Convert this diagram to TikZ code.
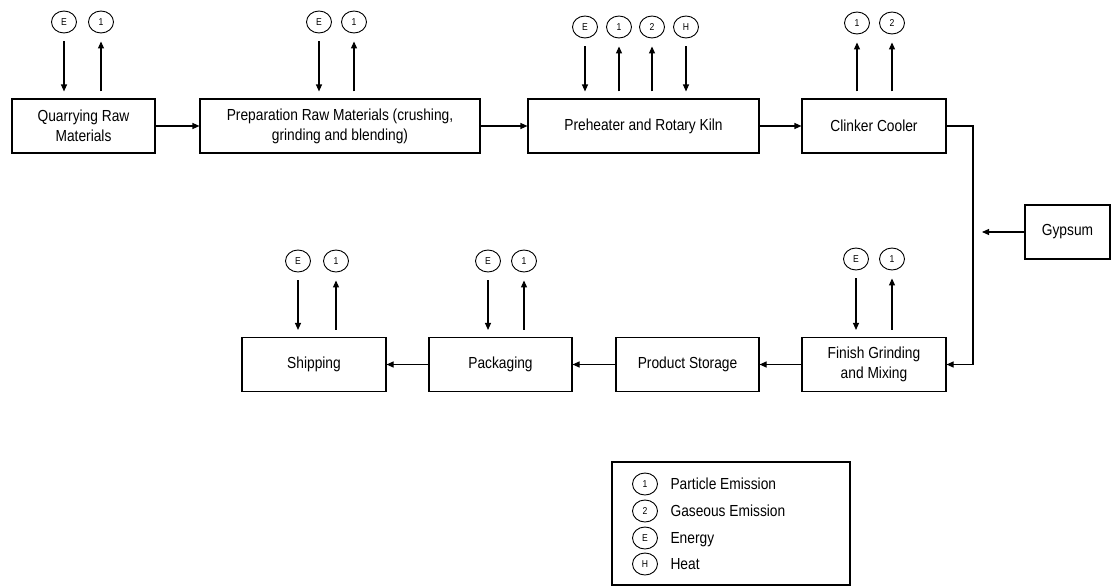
\documentclass[tikz,border=0pt]{standalone}
\usepackage{fontspec}
\setmainfont{Liberation Sans}[FakeStretch=0.86]
\usetikzlibrary{arrows.meta,shapes.geometric}

\begin{document}
\begin{tikzpicture}[x=1pt,y=1pt,line width=1.1pt,
  proc/.style={draw,rectangle,minimum height=54pt,inner sep=0pt,align=center,font=\fontsize{16}{20}\selectfont},
  tag/.style={draw,ellipse,line width=0.9pt,minimum width=25pt,minimum height=22pt,inner sep=0pt,font=\fontsize{10}{10}\selectfont},
  keytext/.style={anchor=base west,inner sep=0pt,font=\fontsize{16}{16}\selectfont},
  flow/.style={-{Triangle[length=7pt,width=6pt]}},
  feed/.style={flow,shorten <=8pt,shorten >=7pt},
  emit/.style={flow,shorten <=7pt,shorten >=8pt}]
\useasboundingbox (0,0) rectangle (1111,-586);
\node[proc,minimum width=143pt] (quarry) at (83.5,-126) {Quarrying Raw\\Materials};
\node[proc,minimum width=280pt] (prep) at (340,-126) {Preparation Raw Materials (crushing,\\grinding and blending)};
\node[proc,minimum width=231pt] (kiln) at (643.5,-126) {Preheater and Rotary Kiln};
\node[proc,minimum width=144pt] (cooler) at (874,-126) {Clinker Cooler};
\node[proc,minimum width=85pt] (gypsum) at (1067.5,-232) {Gypsum};
\node[proc,minimum width=144pt] (grind) at (874,-364.5) {Finish Grinding\\and Mixing};
\node[proc,minimum width=143pt] (storage) at (687.5,-364.5) {Product Storage};
\node[proc,minimum width=143pt] (pack) at (500.5,-364.5) {Packaging};
\node[proc,minimum width=144pt] (ship) at (314,-364.5) {Shipping};
\node[tag] (quarryE) at (64,-22) {E};
\node[tag] (quarry1) at (101,-22) {1};
\node[tag] (prepE) at (319,-22) {E};
\node[tag] (prep1) at (354,-22) {1};
\node[tag] (kilnE) at (585,-27) {E};
\node[tag] (kiln1) at (619,-27) {1};
\node[tag] (kiln2) at (652,-27) {2};
\node[tag] (kilnH) at (686,-27) {H};
\node[tag] (cooler1) at (857,-23) {1};
\node[tag] (cooler2) at (892,-23) {2};
\node[tag] (grindE) at (856,-259) {E};
\node[tag] (grind1) at (892,-259) {1};
\node[tag] (packE) at (488,-261) {E};
\node[tag] (pack1) at (524,-261) {1};
\node[tag] (shipE) at (298,-261) {E};
\node[tag] (ship1) at (336,-261) {1};
\draw[feed] (quarryE) -- (quarryE |- quarry.north);
\draw[emit] (quarry1 |- quarry.north) -- (quarry1);
\draw[feed] (prepE) -- (prepE |- prep.north);
\draw[emit] (prep1 |- prep.north) -- (prep1);
\draw[feed] (kilnE) -- (kilnE |- kiln.north);
\draw[emit] (kiln1 |- kiln.north) -- (kiln1);
\draw[emit] (kiln2 |- kiln.north) -- (kiln2);
\draw[feed] (kilnH) -- (kilnH |- kiln.north);
\draw[emit] (cooler1 |- cooler.north) -- (cooler1);
\draw[emit] (cooler2 |- cooler.north) -- (cooler2);
\draw[feed] (grindE) -- (grindE |- grind.north);
\draw[emit] (grind1 |- grind.north) -- (grind1);
\draw[feed] (packE) -- (packE |- pack.north);
\draw[emit] (pack1 |- pack.north) -- (pack1);
\draw[feed] (shipE) -- (shipE |- ship.north);
\draw[emit] (ship1 |- ship.north) -- (ship1);
\draw[flow] (quarry) -- (prep);
\draw[flow] (prep) -- (kiln);
\draw[flow] (kiln) -- (cooler);
\coordinate (rail) at (973,-126);
\draw[flow] (cooler.east) -- (rail) |- (grind.east);
\coordinate (gypin) at (982,-232);
\draw[flow] (gypsum) -- (gypin);
\draw[flow] (grind) -- (storage);
\draw[flow] (storage) -- (pack);
\draw[flow] (pack) -- (ship);
\node[draw,rectangle,minimum width=238pt,minimum height=123pt,inner sep=0pt] (legend) at (731,-523.5) {};
\node[tag] (key1) at (645,-484) {1};
\node[tag] (key2) at (645,-511) {2};
\node[tag] (keyE) at (645,-538) {E};
\node[tag] (keyH) at (645,-564) {H};
\node[keytext] (key1t) at (670,-489) {Particle Emission};
\node[keytext] (key2t) at (670,-516) {Gaseous Emission};
\node[keytext] (keyEt) at (670,-543) {Energy};
\node[keytext] (keyHt) at (670,-569) {Heat};
\end{tikzpicture}
\end{document}
